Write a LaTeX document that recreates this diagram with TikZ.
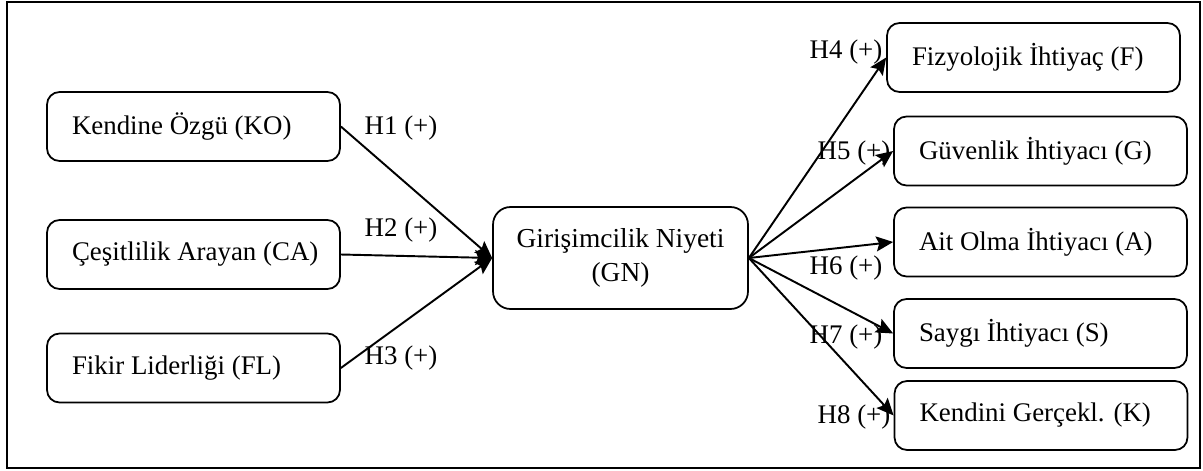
\documentclass[tikz,border=0pt]{standalone}
\usepackage{fontspec}
\setmainfont{Liberation Serif}
\usepackage{tikz}
\usetikzlibrary{arrows.meta, positioning}

\begin{document}
\begin{tikzpicture}[
        x=0.02cm, y=-0.02cm,
        every node/.style={font=\fontsize{15.3}{19.5}\selectfont},
        box/.style={draw, rounded corners=0.25cm, line width=1pt, text width=5.36cm, inner xsep=0.25cm, minimum height=1.38cm, align=flush left, execute at begin node=\hspace*{0.25cm}},
        mainbox/.style={draw, rounded corners=0.35cm, line width=1pt, minimum width=5.1cm, minimum height=2.04cm, align=center, font=\fontsize{15.6}{19.5}\selectfont},
        arrow/.style={-{Stealth[length=0.34cm, width=0.3cm, inset=0.06cm]}, line width=1.1pt},
        hyp/.style={inner sep=0pt}
    ]
        \useasboundingbox (0,0) rectangle (1203,470);
        \draw[line width=1.1pt] (7,2) rectangle (1200,468);
        % antecedents
        \node[box] (KO) at (193.5,126.5) {Kendine Özgü (KO)};
        \node[box] (CA) at (193.5,254.5) {Çeşitlilik Arayan (CA)};
        \node[box] (FL) at (193.5,368) {Fikir Liderliği (FL)};
        % mediator
        \node[mainbox] (GN) at (620.5,258) {Girişimcilik Niyeti\\(GN)};
        % needs
        \node[box] (F) at (1033.5,57.5) {Fizyolojik İhtiyaç (F)};
        \node[box] (G) at (1040.5,151) {Güvenlik İhtiyacı (G)};
        \node[box] (A) at (1040.5,242) {Ait Olma İhtiyacı (A)};
        \node[box] (S) at (1040.5,333.5) {Saygı İhtiyacı (S)};
        \node[box] (K) at (1041,415.5) {Kendini Gerçekl. (K)};
        \draw[arrow] (KO.east) -- (GN.west);
        \draw[arrow] (CA.east) -- (GN.west);
        \draw[arrow] (FL.east) -- (GN.west);
        \draw[arrow] (GN.east) -- (F.west);
        \draw[arrow] (GN.east) -- (G.west);
        \draw[arrow] (GN.east) -- (A.west);
        \draw[arrow] (GN.east) -- (S.west);
        \draw[arrow] (GN.east) -- (K.west);
        % hypotheses
        \node[hyp] (H1) at (401,128) {H1 (+)};
        \node[hyp] (H2) at (401,230) {H2 (+)};
        \node[hyp] (H3) at (401,358) {H3 (+)};
        \node[hyp] (H4) at (846,52) {H4 (+)};
        \node[hyp] (H5) at (854,153) {H5 (+)};
        \node[hyp] (H6) at (846,268) {H6 (+)};
        \node[hyp] (H7) at (846,337) {H7 (+)};
        \node[hyp] (H8) at (854,417) {H8 (+)};
    \end{tikzpicture}
\end{document}
